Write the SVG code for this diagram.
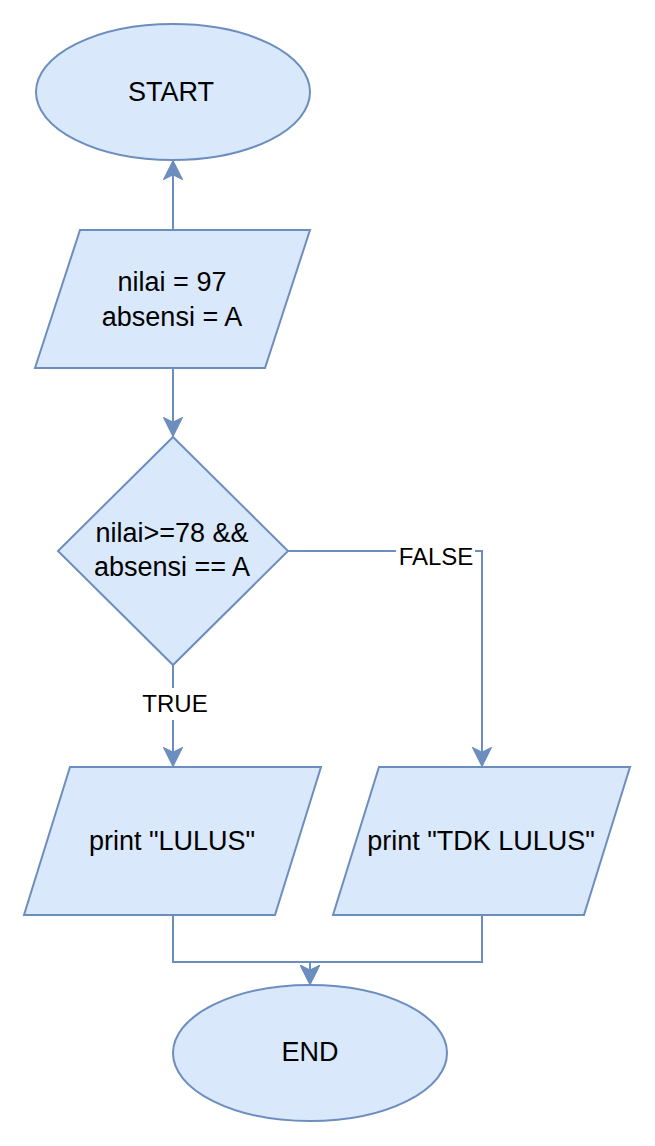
<svg xmlns="http://www.w3.org/2000/svg" width="655" height="1146" viewBox="0 0 655 1146">
<defs>
<style>
.s{fill:#dae8fc;stroke:#6c8ebf;stroke-width:2}
.c{fill:none;stroke:#6c8ebf;stroke-width:2}
.t{font-family:"Liberation Sans",Arial,sans-serif;font-size:27px;fill:#000;text-anchor:middle}
.l{font-family:"Liberation Sans",Arial,sans-serif;font-size:24px;fill:#000;text-anchor:middle}
</style>
<marker id="a" markerWidth="20" markerHeight="20" viewBox="0 0 20 20" refX="19" refY="10" orient="auto" markerUnits="userSpaceOnUse">
<path d="M1,1 L19,10 L1,19 L5.5,10 Z" fill="#6c8ebf" stroke="#6c8ebf" stroke-width="1.5" stroke-linejoin="miter"/>
</marker>
</defs>
<rect width="655" height="1146" fill="#fff"/>
<g id="connectors">
<path class="c" d="M173,230 V161" marker-end="url(#a)"/>
<path class="c" d="M173,368 V436" marker-end="url(#a)"/>
<path class="c" d="M173,665 V766" marker-end="url(#a)"/>
<path class="c" d="M288,551 H482 V766" marker-end="url(#a)"/>
<path class="c" d="M173,915 V962 H310 V984" marker-end="url(#a)"/>
<path class="c" d="M482,915 V962 H310 V984" marker-end="url(#a)"/>
<rect x="396" y="541" width="79" height="30" fill="#fff"/>
<text class="l" x="436" y="565">FALSE</text>
<rect x="140" y="688" width="70" height="32" fill="#fff"/>
<text class="l" x="175" y="712">TRUE</text>
</g>
<g id="start">
<ellipse class="s" cx="173" cy="92" rx="137" ry="68"/>
<text class="t" x="171" y="101">START</text>
</g>
<g id="input">
<polygon class="s" points="80,230 310,230 265,368 35,368"/>
<text class="t" x="172" y="291">nilai = 97</text>
<text class="t" x="172" y="326">absensi = A</text>
</g>
<g id="decision">
<polygon class="s" points="173,437 288,551 173,665 58,551"/>
<text class="t" x="172" y="542">nilai&gt;=78 &amp;&amp;</text>
<text class="t" x="172" y="576">absensi == A</text>
</g>
<g id="lulus">
<polygon class="s" points="70,767 321,767 275,915 24,915"/>
<text class="t" x="172" y="850">print "LULUS"</text>
</g>
<g id="tdklulus">
<polygon class="s" points="379,767 630,767 584,915 333,915"/>
<text class="t" x="481" y="850">print "TDK LULUS"</text>
</g>
<g id="end">
<ellipse class="s" cx="310" cy="1053" rx="137" ry="68"/>
<text class="t" x="310" y="1061">END</text>
</g>
</svg>
